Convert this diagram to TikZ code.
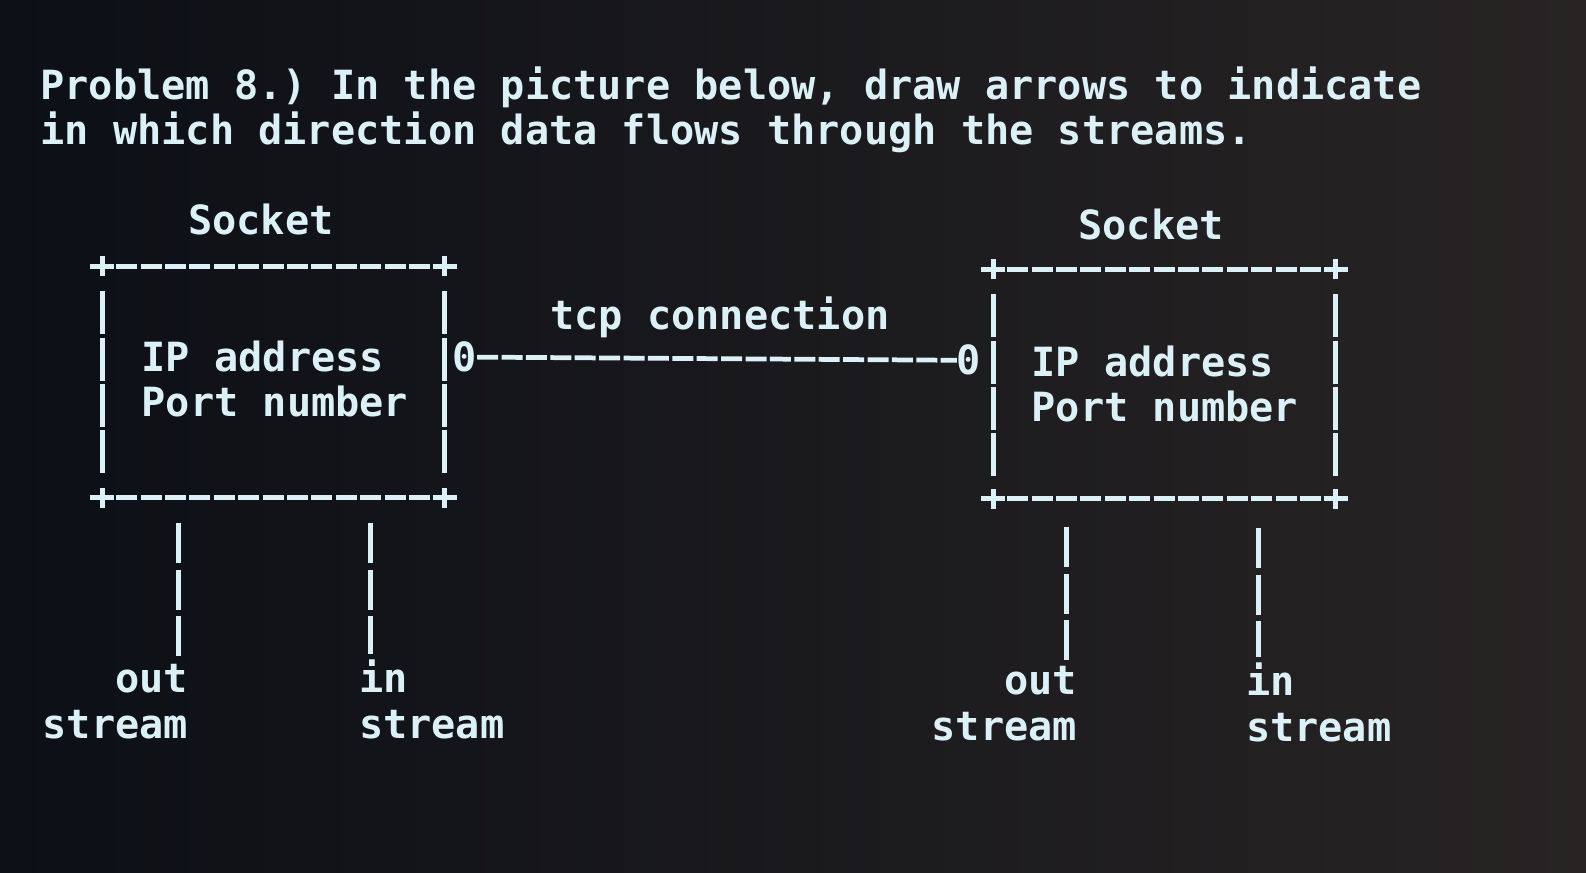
\documentclass[tikz,border=0pt]{standalone}
\usepackage{fontspec}
\setmonofont{DejaVu Sans Mono}
\usepackage{xcolor}
\usepackage{tikz}
\usetikzlibrary{positioning, calc}
\definecolor{termtext}{RGB}{220,240,248}
\definecolor{bgleft}{RGB}{12,15,22}
\definecolor{bgright}{RGB}{40,36,36}
\tikzset{
  term/.style={font=\ttfamily\bfseries\fontsize{11.45}{13}\selectfont, text=termtext,
    inner sep=0pt, outer sep=0pt},
  streamlabel/.style={term, outer ysep=0.06cm},
  sockbox/.style={rectangle, draw=none, inner sep=0pt, minimum width=3.41cm},
  hedge/.style={draw=termtext, line width=1.35pt, dash pattern=on 0.21cm off 0.034cm,
    dash phase=0.105cm},
  vedge/.style={draw=termtext, line width=1.35pt, dash pattern=on 0.43cm off 0.033cm},
  streambar/.style={draw=termtext, line width=1.35pt, dash pattern=on 0.40cm off 0.067cm},
  corner/.pic={\draw[termtext, line width=1.35pt] (-0.12,0) -- (0.12,0) (0,-0.1) -- (0,0.1);},
}

\begin{document}
\begin{tikzpicture}

  %% Screen
  \useasboundingbox (0,0) rectangle (15.86,8.72);
  \shade[left color=bgleft, right color=bgright] (0,0) rectangle (15.86,8.72);

  %% Question
  \node[term, align=left, anchor=base west] (prob) at (0.405, 7.27)
    {Problem 8.) In the picture below, draw arrows to indicate\\in which direction data flows through the streams.};

  %% Left socket
  \node[term, anchor=base] (sockL) at (2.61, 6.37) {Socket};
  \node[sockbox, minimum height=2.30cm] (boxL) at (2.735, 4.90) {};
  \draw[hedge] (boxL.north west) -- (boxL.north east);
  \draw[hedge] (boxL.south west) -- (boxL.south east);
  \draw[vedge] ([yshift=-0.25cm]boxL.north west) -- ([yshift=0.23cm]boxL.south west);
  \draw[vedge] ([yshift=-0.25cm]boxL.north east) -- ([yshift=0.23cm]boxL.south east);
  \pic at (boxL.north west) {corner};
  \pic at (boxL.north east) {corner};
  \pic at (boxL.south west) {corner};
  \pic at (boxL.south east) {corner};
  \node[term, align=left, anchor=base west] (addrL) at (1.417, 4.553)
    {IP address\\Port number};

  %% Right socket
  \node[term, anchor=base] (sockR) at (11.51, 6.32) {Socket};
  \node[sockbox, minimum height=2.28cm] (boxR) at (11.645, 4.88) {};
  \draw[hedge] (boxR.north west) -- (boxR.north east);
  \draw[hedge] (boxR.south west) -- (boxR.south east);
  \draw[vedge] ([yshift=-0.25cm]boxR.north west) -- ([yshift=0.23cm]boxR.south west);
  \draw[vedge] ([yshift=-0.25cm]boxR.north east) -- ([yshift=0.23cm]boxR.south east);
  \pic at (boxR.north west) {corner};
  \pic at (boxR.north east) {corner};
  \pic at (boxR.south west) {corner};
  \pic at (boxR.south east) {corner};
  \node[term, align=left, anchor=base west] (addrR) at (10.317, 4.50)
    {IP address\\Port number};

  %% Connection
  \node[term, anchor=base] (zL) at (4.65, 5.003) {0};
  \node[term, anchor=base] (zR) at (9.69, 4.97) {0};
  \draw[hedge, dash phase=0pt] (zL) -- (zR);
  \node[term, anchor=base] (tcp) at (7.20, 5.42) {tcp connection};

  %% Streams
  \node[streamlabel, align=right, anchor=base east] (outL) at (1.88, 1.34) {out\\stream};
  \node[streamlabel, align=left, anchor=base west] (inL) at (3.59, 1.34) {in\\stream};
  \node[streamlabel, align=right, anchor=base east] (outR) at (10.77, 1.32) {out\\stream};
  \node[streamlabel, align=left, anchor=base west] (inR) at (12.46, 1.305) {in\\stream};
  \coordinate (soL) at (1.783, 3.49);
  \coordinate (siL) at (3.707, 3.49);
  \coordinate (soR) at (10.667, 3.45);
  \coordinate (siR) at (12.583, 3.44);
  \draw[streambar] (soL) -- (soL |- outL.north);
  \draw[streambar] (siL) -- (siL |- inL.north);
  \draw[streambar] (soR) -- (soR |- outR.north);
  \draw[streambar] (siR) -- (siR |- inR.north);

\end{tikzpicture}
\end{document}
